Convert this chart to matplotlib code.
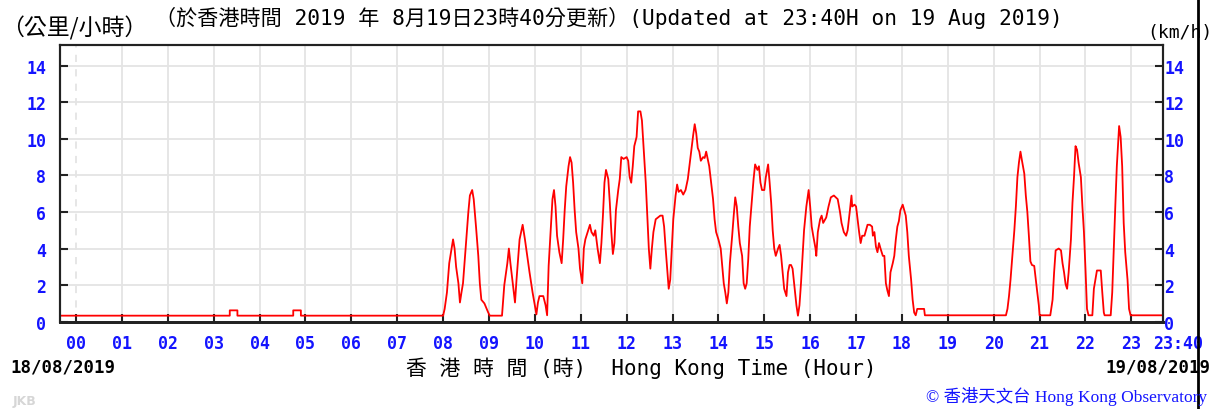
import matplotlib
matplotlib.use("Agg")
import matplotlib.pyplot as plt
from matplotlib.lines import Line2D

# minutes since 00:00 on 19/08/2019, and 10-min mean wind speed (km/h)
minutes = [-21, 201, 201, 211, 211, 284, 284, 294, 294, 480,
           482, 485, 488, 491, 493, 495, 497, 500, 502, 504, 506, 508, 510, 513, 515, 518, 520, 523, 526, 528,
           530, 534, 539, 541, 557, 560, 564, 566, 568, 571, 574, 576, 578, 580, 584, 587, 590, 593, 597, 600,
           602, 604, 606, 611, 614, 616, 618, 621, 623, 625, 627, 629, 632, 635, 637, 639, 641, 644, 646, 648,
           650, 652, 654, 657, 659, 662, 664, 666, 669, 672, 674, 677, 679, 682, 685, 687, 689, 691, 693, 696,
           698, 700, 702, 704, 706, 709, 711, 713, 716, 720, 722, 724, 726, 728, 730, 733, 735, 738, 740, 742,
           745, 747, 749, 751, 753, 755, 758, 761, 764, 767, 769, 771, 773, 775, 777, 779, 781, 784, 786, 788,
           791, 794, 797, 800, 802, 804, 807, 809, 811, 813, 815, 817, 820, 822, 824, 826, 828, 831, 833, 835,
           837, 840, 843, 845, 847, 849, 851, 853, 855, 858, 860, 862, 864, 866, 868, 871, 873, 875, 877, 879,
           881, 884, 886, 888, 891, 893, 895, 897, 900, 902, 905, 907, 909, 911, 913, 915, 918, 920, 922, 924,
           926, 929, 931, 933, 935, 937, 939, 942, 944, 946, 948, 950, 952, 955, 958, 960, 962, 964, 967, 968,
           970, 973, 975, 977, 981, 984, 987, 991, 996, 999, 1001, 1004, 1007, 1009, 1012, 1014, 1015, 1018, 1020, 1022,
           1024, 1026, 1028, 1031, 1033, 1035, 1038, 1041, 1042, 1044, 1046, 1048, 1050, 1052, 1055, 1057, 1059, 1061, 1063, 1065,
           1068, 1070, 1072, 1074, 1076, 1078, 1081, 1083, 1085, 1087, 1089, 1092, 1094, 1096, 1098, 1100, 1109, 1110, 1216, 1218,
           1220, 1222, 1224, 1227, 1229, 1231, 1233, 1235, 1237, 1240, 1242, 1244, 1246, 1248, 1250, 1253, 1255, 1257, 1259, 1260,
           1274, 1277, 1279, 1281, 1285, 1288, 1290, 1292, 1294, 1296, 1298, 1301, 1303, 1305, 1307, 1309, 1311, 1314, 1316, 1318,
           1320, 1322, 1324, 1329, 1331, 1333, 1335, 1340, 1342, 1344, 1345, 1353, 1355, 1357, 1359, 1361, 1364, 1366, 1368, 1370,
           1372, 1375, 1377, 1379, 1420]
speed = [0.33, 0.33, 0.62, 0.62, 0.33, 0.33, 0.62, 0.62, 0.33, 0.33,
         0.7, 1.6, 3.2, 4.0, 4.5, 4.0, 3.0, 2.1, 1.05, 1.6, 2.1, 3.2, 4.3, 6.0, 6.9, 7.2, 6.7, 5.2, 3.6, 2.1,
         1.2, 1.0, 0.5, 0.33, 0.33, 2.0, 3.2, 4.0, 3.2, 2.1, 1.05, 2.3, 3.4, 4.5, 5.3, 4.5, 3.6, 2.7, 1.6, 0.9,
         0.4, 1.05, 1.4, 1.4, 0.9, 0.35, 3.05, 5.2, 6.7, 7.2, 6.3, 4.7, 3.8, 3.2, 4.5, 6.1, 7.4, 8.5, 9.0, 8.7,
         7.6, 6.1, 4.9, 4.0, 2.9, 2.1, 4.0, 4.5, 4.9, 5.3, 4.9, 4.7, 5.0, 4.0, 3.2, 4.3, 5.8, 7.6, 8.3, 7.8,
         6.5, 4.9, 3.7, 4.3, 6.1, 7.2, 7.8, 9.0, 8.9, 9.0, 8.8, 7.9, 7.6, 8.5, 9.6, 10.1, 11.5, 11.5, 11.0, 9.6,
         7.6, 5.8, 4.0, 2.9, 4.0, 4.9, 5.6, 5.7, 5.8, 5.8, 5.2, 4.0, 2.9, 1.8, 2.3, 4.0, 5.6, 6.9, 7.5, 7.1,
         7.2, 6.95, 7.2, 7.8, 8.5, 9.2, 10.2, 10.8, 10.3, 9.5, 9.3, 8.8, 9.0, 8.95, 9.3, 8.9, 8.5, 7.4, 6.7, 5.6,
         4.9, 4.5, 4.0, 3.05, 2.1, 1.6, 1.0, 1.6, 3.2, 4.7, 5.8, 6.8, 6.3, 5.2, 4.3, 3.6, 2.1, 1.8, 2.1, 3.4,
         5.2, 6.8, 7.8, 8.6, 8.3, 8.5, 7.6, 7.2, 7.2, 7.9, 8.6, 7.6, 6.5, 5.0, 4.0, 3.6, 4.0, 4.2, 3.6, 2.7,
         1.8, 1.4, 2.7, 3.1, 3.1, 2.9, 2.1, 0.9, 0.33, 0.9, 2.1, 3.6, 5.0, 6.3, 7.2, 6.3, 5.2, 4.7, 4.0, 3.6,
         4.9, 5.6, 5.8, 5.4, 5.7, 6.3, 6.8, 6.9, 6.7, 6.0, 5.4, 4.9, 4.7, 5.0, 6.1, 6.9, 6.3, 6.4, 6.3, 5.6,
         4.9, 4.3, 4.7, 4.7, 5.0, 5.3, 5.3, 5.2, 4.7, 4.9, 4.1, 3.8, 4.3, 4.0, 3.6, 3.6, 2.1, 1.7, 1.4, 2.7,
         3.2, 3.6, 4.5, 5.2, 5.5, 6.1, 6.4, 6.1, 5.8, 4.9, 3.6, 2.3, 1.2, 0.5, 0.35, 0.7, 0.7, 0.35, 0.35, 0.7,
         1.4, 2.3, 3.4, 5.0, 6.3, 7.9, 8.7, 9.3, 8.8, 8.1, 6.9, 6.0, 4.7, 3.3, 3.1, 3.05, 2.3, 1.6, 0.9, 0.35,
         0.35, 1.2, 2.7, 3.9, 4.0, 3.9, 3.2, 2.7, 2.05, 1.8, 2.7, 4.5, 6.5, 7.9, 9.6, 9.4, 8.7, 7.9, 6.3, 4.9,
         2.9, 0.7, 0.35, 0.35, 1.8, 2.3, 2.8, 2.8, 1.6, 0.5, 0.35, 0.35, 1.6, 4.0, 6.3, 8.5, 10.7, 10.1, 8.5, 5.4,
         3.8, 2.3, 0.7, 0.35, 0.35]

hour_labels = ["%02d" % h for h in range(24)]
y_ticks = [0, 2, 4, 6, 8, 10, 12, 14]

BLUE = "#1414ff"
MONO = ["DejaVu Sans Mono", "Noto Sans CJK TC"]
CJK = ["Noto Sans CJK TC", "DejaVu Sans Mono"]

fig = plt.figure(figsize=(12.25, 4.1), dpi=100)
ax = fig.add_axes([60 / 1225, 1 - 322.7 / 410, (1162.7 - 60) / 1225, (322.7 - 46) / 410])

ax.plot(minutes, speed, color="#ff0000", lw=1.3)

ax.set_xlim(-21, 1421)
ax.set_ylim(0, 15.13)

ax.set_xticks([h * 60 for h in range(24)])
ax.set_xticklabels(hour_labels)
ax.set_yticks(y_ticks)
ax.set_yticklabels([str(v) for v in y_ticks])

ax.grid(True, color="#e4e4e4", lw=1.3)
ax.get_xgridlines()[0].set_linestyle((0, (4, 4)))
ax.get_ygridlines()[0].set_visible(False)

ax.tick_params(axis="both", direction="in", length=6, width=1.5, colors="#222222",
               labelcolor=BLUE, labelsize=12)
ax.tick_params(axis="y", pad=10)
ax.tick_params(axis="x", pad=9)

# same scale on the right side
ax2 = ax.twinx()
ax2.set_ylim(ax.get_ylim())
ax2.set_yticks(y_ticks)
ax2.set_yticklabels([str(v) for v in y_ticks])
ax2.tick_params(axis="y", direction="in", length=6, width=1.5, colors="#222222",
                labelcolor=BLUE, labelsize=12, pad=1)

for lab in ax.get_xticklabels() + ax.get_yticklabels() + ax2.get_yticklabels():
    lab.set_family("DejaVu Sans Mono")
    lab.set_fontweight("bold")
for a in (ax, ax2):
    for sp in a.spines.values():
        sp.set_color("#222222")
        sp.set_linewidth(1.5)
    a.spines["bottom"].set_linewidth(2)

# end-of-data label
ax.text((1178 - 60) / 1102.7, -0.046, "23:40", transform=ax.transAxes, ha="center", va="top",
        color=BLUE, fontsize=12, fontweight="bold", family="DejaVu Sans Mono")


def ftext(x, y, s, **kw):
    fig.text(x / 1225, 1 - y / 410, s, **kw)


ftext(74, 28, "（公里/小時）", ha="center", va="center", fontsize=16.5, family=CJK)
ftext(609, 18, "（於香港時間 2019 年 8月19日23時40分更新）(Updated at 23:40H on 19 Aug 2019)",
      ha="center", va="center", fontsize=15.2, family=MONO)
ftext(1180, 33, "(km/h)", ha="center", va="center", fontsize=13, family=MONO)

ftext(641, 368, "香 港 時 間 (時)  Hong Kong Time (Hour)", ha="center", va="center",
      fontsize=15, family=MONO)
ftext(10, 368, "18/08/2019", ha="left", va="center", fontsize=12.5, fontweight="bold", family=MONO)
ftext(1210, 368, "19/08/2019", ha="right", va="center", fontsize=12.5, fontweight="bold", family=MONO)
ftext(1207, 397, "© 香港天文台 Hong Kong Observatory", ha="right", va="center", fontsize=12.5,
      color=BLUE, family=["Liberation Serif", "Noto Sans CJK TC"])
ftext(13, 402, "JKB", ha="left", va="center", fontsize=9, fontweight="bold", color="#d6d6d6")

fig.add_artist(Line2D([1198 / 1225] * 2, [0, 1], color="black", lw=2))

fig.savefig("out.png", dpi=100)
